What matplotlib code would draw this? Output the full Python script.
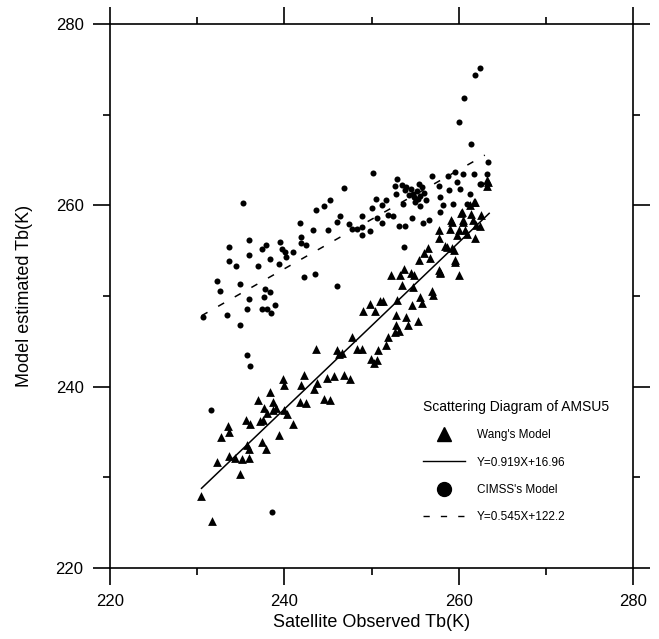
import matplotlib
matplotlib.use("Agg")
import matplotlib.pyplot as plt
from matplotlib.lines import Line2D
import numpy as np

plt.rcParams['font.family'] = ['Liberation Sans', 'DejaVu Sans']

# ---- data ----
wang_x = [230.4, 231.7, 232.3, 232.7, 233.5, 233.7, 233.6, 234.3, 234.9, 235.2, 235.9, 235.7, 235.9,
          235.6, 236.1, 237.0, 237.4, 237.9, 237.2, 237.6, 237.7, 238.0, 238.4, 238.7, 238.7, 239.0,
          239.4, 239.8, 240.0, 240.0, 240.3, 241.0, 241.9, 241.8, 242.5, 242.3, 243.4, 243.7, 243.6,
          244.5, 245.2, 244.9, 245.7, 246.0, 246.3, 246.6, 246.8, 247.5, 247.8, 248.3, 248.9, 249.9,
          250.3, 250.6, 250.8, 251.7, 251.9, 252.7, 249.0, 249.8, 250.4, 251.0, 251.3, 252.2, 252.9,
          252.8, 252.8, 253.2, 253.3, 253.7, 253.5, 254.0, 254.2, 254.5, 254.6, 254.9, 254.8, 255.4,
          255.3, 255.6, 255.8, 256.0, 256.5, 256.7, 256.9, 257.1, 257.7, 257.8, 257.8, 257.9, 258.4,
          258.7, 259.0, 259.1, 259.2, 259.5, 259.6, 259.8, 260.0, 260.0, 260.4, 260.5, 260.7, 260.9,
          261.4, 261.6, 261.8, 262.0, 262.4, 261.9, 262.6, 263.3, 263.4, 263.2, 261.9, 261.3, 260.3,
          260.5, 259.2, 259.6, 257.9]
wang_y = [227.9, 225.2, 231.7, 234.4, 235.7, 235.0, 232.4, 232.1, 230.4, 232.0, 232.1, 233.6, 233.1,
          236.3, 235.9, 238.5, 233.9, 233.1, 236.2, 236.3, 237.7, 237.1, 239.4, 238.3, 237.4, 237.6,
          234.7, 240.8, 240.2, 237.4, 237.0, 235.9, 240.2, 238.3, 238.2, 241.3, 239.7, 240.4, 244.2,
          238.6, 238.5, 241.0, 241.2, 244.0, 243.6, 243.7, 241.3, 240.8, 245.5, 244.1, 244.1, 243.1,
          242.6, 242.9, 244.0, 244.6, 245.5, 246.0, 248.4, 249.1, 248.3, 249.4, 249.5, 252.3, 249.6,
          247.9, 246.8, 246.1, 252.3, 253.0, 251.2, 247.7, 246.8, 252.5, 249.0, 252.3, 251.0, 254.0,
          247.2, 249.9, 249.2, 254.7, 255.3, 254.2, 250.5, 250.1, 257.3, 256.4, 252.9, 252.5, 255.5,
          255.4, 257.4, 258.4, 255.3, 255.1, 254.0, 256.7, 257.3, 252.3, 259.3, 258.4, 257.3, 256.8,
          259.0, 258.4, 260.4, 257.8, 257.7, 256.4, 258.9, 262.1, 262.6, 262.8, 260.4, 260.0, 259.1,
          258.2, 258.2, 253.8, 252.7]

cimss_x = [230.7, 232.3, 232.6, 233.6, 233.6, 233.4, 234.5, 234.9, 234.9, 235.3, 235.9, 235.9, 235.9,
           235.7, 237.0, 237.4, 237.9, 237.8, 237.7, 237.4, 238.0, 238.3, 238.4, 238.5, 238.9, 239.5,
           239.4, 239.7, 240.1, 240.2, 241.0, 241.8, 241.9, 241.9, 242.5, 242.3, 243.5, 243.3, 243.6,
           244.5, 245.2, 245.0, 246.0, 246.0, 246.4, 246.8, 247.4, 247.8, 248.3, 248.9, 248.9, 248.9,
           249.8, 250.0, 250.2, 250.5, 250.6, 251.2, 251.2, 251.7, 251.9, 252.5, 252.7, 252.8, 252.9,
           253.2, 253.5, 253.6, 253.7, 253.9, 254.3, 254.6, 254.8, 255.0, 255.4, 255.6, 255.6, 255.9,
           256.3, 256.6, 256.9, 257.9, 257.8, 257.9, 258.2, 258.8, 258.9, 259.4, 259.6, 259.8, 260.1,
           260.5, 260.9, 261.3, 261.4, 261.8, 262.4, 263.3, 263.4, 262.4, 261.9, 260.6, 260.0, 262.6,
           235.7, 236.1, 231.6, 238.6, 254.0, 254.5, 255.2, 255.8, 254.9, 256.0, 253.9, 255.3]
cimss_y = [247.7, 251.7, 250.5, 255.4, 253.9, 247.9, 253.3, 251.3, 246.8, 260.3, 256.2, 254.5, 249.7,
           248.6, 253.3, 255.2, 255.6, 250.8, 249.9, 248.6, 248.6, 254.1, 250.4, 248.1, 249.0, 256.0,
           253.5, 255.2, 254.8, 254.3, 254.8, 258.0, 256.5, 255.8, 255.6, 252.1, 252.4, 257.3, 259.5,
           259.9, 260.6, 257.3, 258.2, 251.1, 258.8, 261.9, 257.9, 257.4, 257.4, 257.6, 258.8, 256.7,
           257.2, 259.7, 263.6, 260.7, 258.6, 258.1, 260.0, 260.6, 258.9, 258.8, 262.1, 261.2, 262.9,
           257.7, 262.2, 260.1, 255.4, 257.7, 261.1, 258.6, 261.3, 260.4, 262.4, 261.0, 259.9, 258.0,
           260.6, 258.4, 263.2, 260.9, 262.1, 259.3, 260.0, 263.2, 261.7, 260.2, 263.7, 262.6, 261.8,
           263.5, 260.2, 261.3, 266.8, 263.5, 262.4, 263.5, 264.8, 275.2, 274.4, 271.8, 269.2, 262.4,
           243.5, 242.3, 237.4, 226.2, 262.0, 261.8, 261.6, 262.0, 260.9, 261.4, 261.7, 260.7]

wang_fit = (0.919, 16.96)
wang_fit_x = [230.5, 263.5]
cimss_fit = (0.545, 122.2)
cimss_fit_x = [230.5, 263.0]

x_ticks = [220, 240, 260, 280]
y_ticks = [220, 240, 260, 280]
minor_ticks = [230, 250, 270]

legend_title = "Scattering Diagram of AMSU5"
legend_labels = ["Wang's Model", "Y=0.919X+16.96", "CIMSS's Model", "Y=0.545X+122.2"]

# ---- figure ----
fig = plt.figure(figsize=(6.59, 6.39), dpi=100)
ax = fig.add_axes([110/659, 1 - 568/639, (633-110)/659, (568-24)/639])

ax.scatter(wang_x, wang_y, marker='^', s=40, color='black', linewidths=0, zorder=3)
ax.scatter(cimss_x, cimss_y, marker='o', s=19, color='black', linewidths=0, zorder=3)

wx = np.array(wang_fit_x)
ax.plot(wx, wang_fit[0]*wx + wang_fit[1], color='black', lw=1.1, zorder=2)
cx = np.array(cimss_fit_x)
ax.plot(cx, cimss_fit[0]*cx + cimss_fit[1], color='black', lw=1.1, dashes=(4.5, 8), zorder=2)

ax.set_xlim(220, 280)
ax.set_ylim(220, 280)
ax.set_xticks(x_ticks)
ax.set_yticks(y_ticks)
ax.set_xticks(minor_ticks, minor=True)
ax.set_yticks(minor_ticks, minor=True)
ax.tick_params(which='both', direction='out', top=True, right=True, width=1.2, colors='black')
ax.tick_params(which='major', length=12, labelsize=12, pad=7)
ax.tick_params(which='minor', length=5)
ax.tick_params(labeltop=False, labelright=False)
for s in ax.spines.values():
    s.set_linewidth(1.2)

ax.set_xlabel("Satellite Observed Tb(K)", fontsize=13, labelpad=3)
ax.set_ylabel("Model estimated Tb(K)", fontsize=13, labelpad=16)

handles = [
    Line2D([], [], marker='^', color='black', ls='none', markersize=10),
    Line2D([], [], color='black', lw=1.0),
    Line2D([], [], marker='o', color='black', ls='none', markersize=10),
    Line2D([], [], color='black', lw=1.0, dashes=(4.5, 8)),
]
leg = ax.legend(handles, legend_labels, title=legend_title, loc='upper left',
                bbox_to_anchor=(417/659, 1 - 394/639), bbox_transform=fig.transFigure,
                frameon=False, fontsize=8.5, title_fontsize=10, borderpad=0,
                handlelength=3.6, handletextpad=1.0, labelspacing=1.3)
leg._legend_box.align = "left"

fig.savefig("out.png", dpi=100)
